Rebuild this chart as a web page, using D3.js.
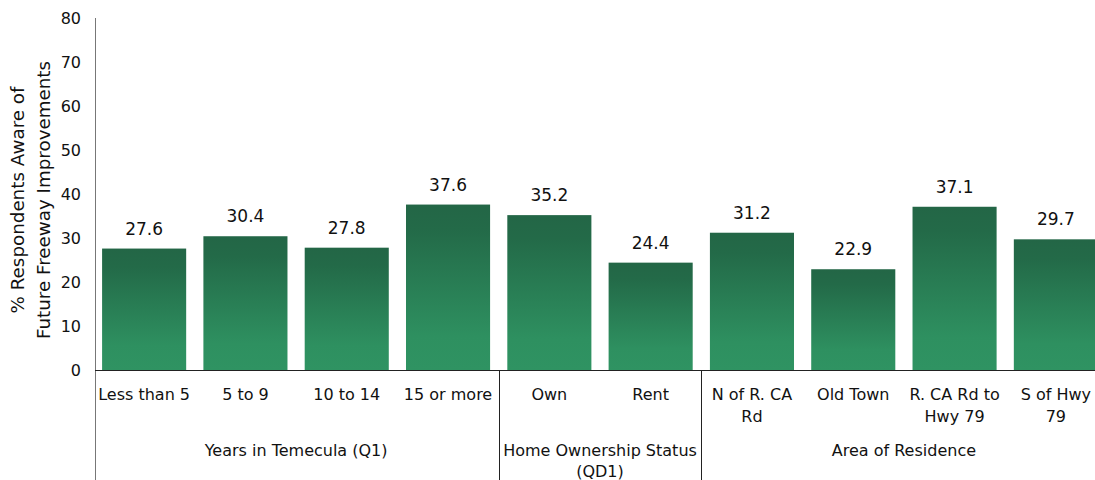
<!DOCTYPE html>
<html><head><meta charset="utf-8">
<script src="https://cdn.jsdelivr.net/npm/d3@7"></script>
<style>body{margin:0;background:#fff}svg{display:block}text{font-family:"DejaVu Sans",sans-serif;fill:#111}</style>
</head><body><svg id="c" width="1095" height="480"></svg>
<script>
const categories = [["Less than 5"],["5 to 9"],["10 to 14"],["15 or more"],["Own"],["Rent"],["N of R. CA","Rd"],["Old Town"],["R. CA Rd to","Hwy 79"],["S of Hwy","79"]];
const values = [27.6,30.4,27.8,37.6,35.2,24.4,31.2,22.9,37.1,29.7];
const groups = [{label:["Years in Temecula (Q1)"],start:0,end:3},{label:["Home Ownership Status","(QD1)"],start:4,end:5},{label:["Area of Residence"],start:6,end:9}];
const yTicks = [0,10,20,30,40,50,60,70,80];
const yTitle = ["% Respondents Aware of","Future Freeway Improvements"];

const svg = d3.select("#c");
const x = d3.scaleBand().domain(d3.range(values.length)).range([95,1105]).paddingInner(0.17).paddingOuter(0.07);
const y = d3.scaleLinear().domain([0,80]).range([370,18]);

const defs = svg.append("defs");
const g = defs.append("linearGradient").attr("id","bg").attr("x1",0).attr("y1",0).attr("x2",0).attr("y2",1);
g.append("stop").attr("offset","0").attr("stop-color","#236646");
g.append("stop").attr("offset","0.15").attr("stop-color","#236a48");
g.append("stop").attr("offset","0.8").attr("stop-color","#2e9060");
g.append("stop").attr("offset","1").attr("stop-color","#2f9362");

svg.selectAll("rect.bar").data(values).join("rect").attr("class","bar")
  .attr("x",(d,i)=>x(i)).attr("width",x.bandwidth())
  .attr("y",d=>y(d)).attr("height",d=>y(0)-y(d)).attr("fill","url(#bg)");

svg.selectAll("text.val").data(values).join("text").attr("class","val")
  .attr("x",(d,i)=>x(i)+x.bandwidth()/2).attr("y",d=>y(d)-14)
  .attr("text-anchor","middle").attr("font-size",17).text(d=>d.toFixed(1));

// y axis
const ya = svg.append("g").attr("transform","translate(95,0)")
  .call(d3.axisLeft(y).tickValues(yTicks).tickSize(0).tickPadding(14));
ya.select(".domain").remove();
ya.selectAll("text").attr("font-size",16).attr("font-family","DejaVu Sans").attr("fill","#111");
svg.append("line").attr("x1",95.5).attr("x2",95.5).attr("y1",18).attr("y2",480).attr("stroke","#777");
svg.append("line").attr("x1",95).attr("x2",1095).attr("y1",370.5).attr("y2",370.5).attr("stroke","#222");

// category labels
const cl = svg.selectAll("text.cat").data(categories).join("text").attr("class","cat")
  .attr("text-anchor","middle").attr("font-size",16);
cl.each(function(d,i){
  const t = d3.select(this);
  d.forEach((line,j)=>t.append("tspan").attr("x",x(i)+x.bandwidth()/2).attr("y",400+j*22).text(line));
});

// group separators and labels
const step = x.step();
groups.forEach((gr,gi)=>{
  if(gi>0){
    const sx = Math.round(x(gr.start) - (step-x.bandwidth())/2)+0.5;
    svg.append("line").attr("x1",sx).attr("x2",sx).attr("y1",370).attr("y2",480).attr("stroke","#222");
  }
  const cx = (x(gr.start) + x(gr.end)+x.bandwidth())/2;
  const t = svg.append("text").attr("text-anchor","middle").attr("font-size",16);
  gr.label.forEach((line,j)=>t.append("tspan").attr("x",cx).attr("y",456+j*21).text(line));
});

// y title
const yt = svg.append("text").attr("transform","translate(24,200) rotate(-90)").attr("text-anchor","middle").attr("font-size",18.3);
yTitle.forEach((line,j)=>yt.append("tspan").attr("x",0).attr("y",j*26).text(line));
</script></body></html>
